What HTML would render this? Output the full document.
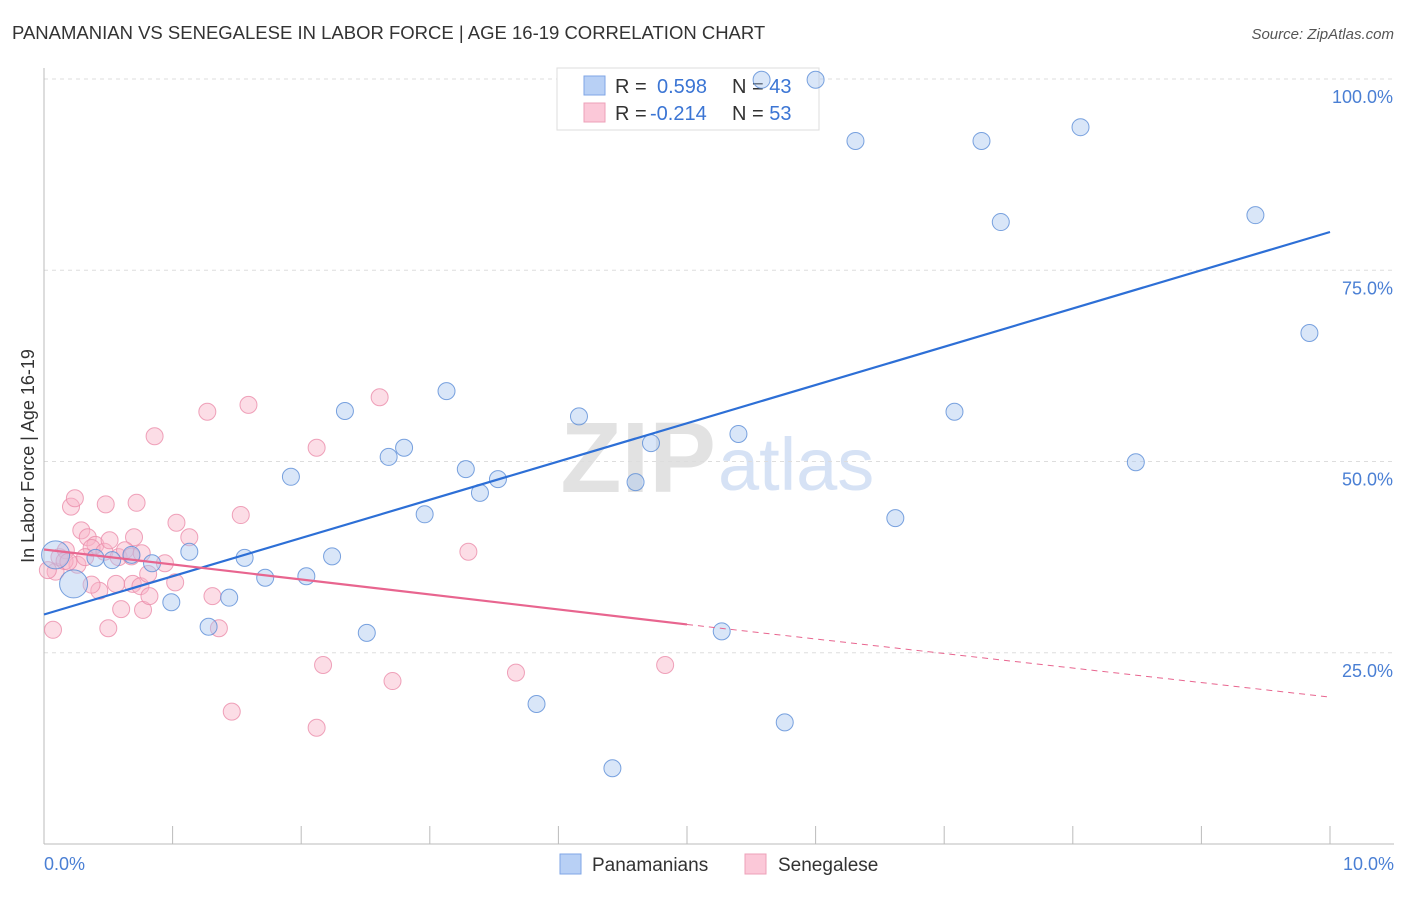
<!DOCTYPE html>
<html><head><meta charset="utf-8"><style>
body{margin:0;background:#fff;font-family:"Liberation Sans",sans-serif}
svg text{font-family:"Liberation Sans",sans-serif}
</style></head><body>
<svg width="1406" height="892">
<text x="12" y="39" font-size="18.5" fill="#333">PANAMANIAN VS SENEGALESE IN LABOR FORCE | AGE 16-19 CORRELATION CHART</text>
<text x="1394" y="39" font-size="15" fill="#555" font-style="italic" text-anchor="end">Source: ZipAtlas.com</text>
<text x="716" y="492" font-size="100" fill="#e2e2e2" text-anchor="end" font-family="Liberation Serif" font-weight="bold">ZIP</text>
<text x="718" y="490" font-size="74" fill="#d6e2f5">atlas</text>
<g id="grid"></g>
<line x1="44" y1="68" x2="44" y2="844" stroke="#bbb"/>
<line x1="44" y1="844" x2="1394" y2="844" stroke="#bbb"/>
<text transform="translate(34,456) rotate(-90)" font-size="18" fill="#333" text-anchor="middle">In Labor Force | Age 16-19</text>
<text x="44" y="870" font-size="18" fill="#4a7fd4">0.0%</text>
<text x="1394" y="870" font-size="18" fill="#4a7fd4" text-anchor="end">10.0%</text>
<rect x="557" y="68" width="262" height="62" fill="#fff" stroke="#ddd"/>
<rect x="584" y="76" width="21" height="19" fill="#b8d0f5" stroke="#7fa6e6"/>
<rect x="584" y="103" width="21" height="19" fill="#fbc8d8" stroke="#eea0b8"/>
<text x="615" y="93" font-size="20" fill="#333">R = <tspan fill="#3b75d4" x="657">0.598</tspan><tspan fill="#333" x="732">N = </tspan><tspan fill="#3b75d4">43</tspan></text>
<text x="615" y="120" font-size="20" fill="#333">R = <tspan fill="#3b75d4" x="650">-0.214</tspan><tspan fill="#333" x="732">N = </tspan><tspan fill="#3b75d4">53</tspan></text>
<g id="pts"></g>
<g id="lines"></g>
<rect x="560" y="854" width="21" height="20" fill="#b8d0f5" stroke="#7fa6e6"/>
<text x="592" y="871" font-size="19" fill="#333">Panamanians</text>
<rect x="745" y="854" width="21" height="20" fill="#fbc8d8" stroke="#eea0b8"/>
<text x="778" y="871" font-size="19" fill="#333">Senegalese</text>
</svg>
<script>
const yTicks=[25,50,75,100];
const yTickLabels=["25.0%","50.0%","75.0%","100.0%"];
const xTicks=[0,1,2,3,4,5,6,7,8,9,10];
const blueX=[5.58,6.00,6.31,7.29,8.06,7.44,9.42,9.84,7.08,8.49,6.62,5.40,4.72,4.16,4.60,5.27,5.76,4.42,3.83,3.13,2.80,2.68,2.34,3.28,3.53,3.39,2.96,1.92,2.24,2.04,1.72,1.56,1.44,1.28,1.13,0.99,0.84,0.68,0.53,0.40,0.23,0.09,2.51];
const blueY=[99.9,99.9,91.9,91.9,93.7,81.3,82.2,66.8,56.5,49.9,42.6,53.6,52.4,55.9,47.3,27.8,15.9,9.9,18.3,59.2,51.8,50.6,56.6,49.0,47.7,45.9,43.1,48.0,37.6,35.0,34.8,37.4,32.2,28.4,38.2,31.6,36.7,37.8,37.1,37.4,34.0,37.8,27.6];
const pinkX=[0.07,0.21,0.24,0.48,0.72,0.29,0.34,0.40,0.70,1.03,1.13,1.53,0.86,1.27,1.59,2.12,2.61,3.30,2.17,2.71,3.67,4.83,1.46,2.12,0.50,1.36,1.31,0.77,0.60,0.43,0.37,0.56,0.69,0.75,0.82,1.02,0.81,0.94,0.26,0.09,0.03,0.12,0.17,0.37,0.47,0.58,0.63,0.68,0.16,0.32,0.19,0.51,0.76];
const pinkY=[28.0,44.1,45.2,44.4,44.6,41.0,40.1,39.1,40.1,42.0,40.1,43.0,53.3,56.5,57.4,51.8,58.4,38.2,23.4,21.3,22.4,23.4,17.3,15.2,28.2,28.2,32.4,30.6,30.7,33.1,33.9,34.0,34.0,33.7,32.4,34.2,35.3,36.7,36.5,35.6,35.8,37.5,38.4,38.7,38.2,37.5,38.4,37.6,37.0,37.5,36.9,39.7,38.0];
const blueLine=[[0,30.0],[10,80.0]];
const pinkLine=[[0,38.5],[5,28.7],[10,19.2]];
const NS="http://www.w3.org/2000/svg";
const X=v=>44+v*128.6, Y=v=>844-v*7.65;
function mk(t,a,p){const e=document.createElementNS(NS,t);for(const k in a)e.setAttribute(k,a[k]);p.appendChild(e);return e;}
const grid=document.getElementById('grid');
yTicks.forEach((t,i)=>{
 const l=mk('line',{x1:44,x2:1394,y1:Y(t),y2:Y(t),stroke:'#ddd','stroke-dasharray':'4,4'},grid);
 
 
 const tx=mk('text',{x:1393,y:Y(t)+24,'font-size':18,fill:'#4a7fd4','text-anchor':'end'},grid);
 tx.textContent=yTickLabels[i];
 
 
});
xTicks.forEach(t=>{
 const l=mk('line',{x1:X(t),x2:X(t),y1:826,y2:844,stroke:'#bbb'},grid);
 
 
});
const pts=document.getElementById('pts');
pinkX.forEach((x,i)=>{
 const c=mk('circle',{cx:X(x),cy:Y(pinkY[i]),r:8.5,fill:'rgba(248,180,200,0.45)',stroke:'rgba(235,140,170,0.8)'},pts);
 
 
});
blueX.forEach((x,i)=>{
 const big=(i>=40&&i<=41);
 const c=mk('circle',{cx:X(x),cy:Y(blueY[i]),r:big?14:8.5,fill:'rgba(170,200,240,0.45)',stroke:'rgba(90,140,215,0.8)'},pts);
 
 
});
const lines=document.getElementById('lines');
const bl=mk('line',{x1:X(blueLine[0][0]),y1:Y(blueLine[0][1]),x2:X(blueLine[1][0]),y2:Y(blueLine[1][1]),stroke:'#2d6fd6','stroke-width':2.2},lines);


const pl=mk('line',{x1:X(pinkLine[0][0]),y1:Y(pinkLine[0][1]),x2:X(pinkLine[1][0]),y2:Y(pinkLine[1][1]),stroke:'#e8658f','stroke-width':2.2},lines);


const pd=mk('line',{x1:X(pinkLine[1][0]),y1:Y(pinkLine[1][1]),x2:X(pinkLine[2][0]),y2:Y(pinkLine[2][1]),stroke:'#e8658f','stroke-width':1,'stroke-dasharray':'6,5'},lines);


</script>
</body></html>
